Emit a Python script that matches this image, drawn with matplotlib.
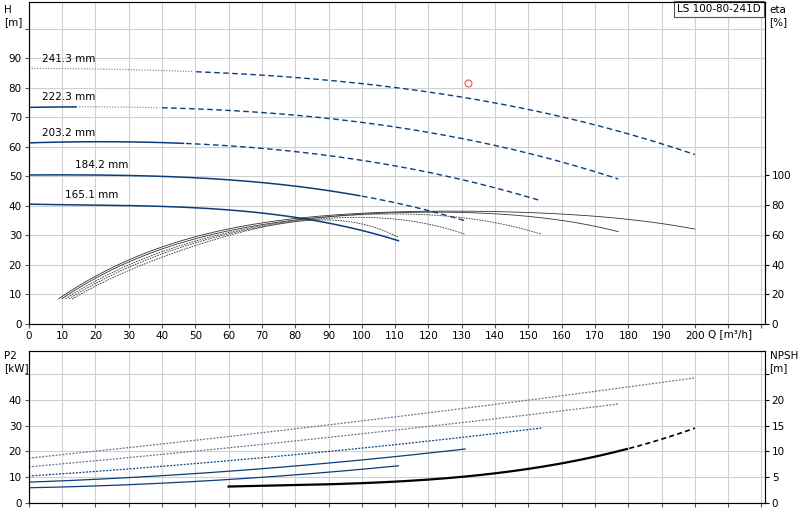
import matplotlib.pyplot as plt
import numpy as np

plt.rcParams["font.family"] = ["DejaVu Sans"]
plt.rcParams["font.size"] = 7.5

# impeller diameters and curves (Q in m3/h)
diameters = ["241.3 mm", "222.3 mm", "203.2 mm", "184.2 mm", "165.1 mm"]
q_h = [
    [0, 25, 50, 75, 100, 130, 150, 175, 200],
    [0, 25, 50, 75, 100, 130, 150, 177],
    [0, 25, 50, 75, 100, 130, 154],
    [0, 20, 40, 60, 80, 100, 131],
    [0, 20, 40, 60, 80, 100, 111],
]
h_vals = [
    [86.5, 86.3, 85.5, 83.8, 81.0, 77.5, 72.5, 65.6, 57.5],
    [73.5, 73.3, 72.6, 71.2, 68.8, 63.0, 57.0, 49.4],
    [61.5, 61.4, 60.8, 59.2, 56.0, 48.0, 42.0],
    [50.5, 50.4, 49.9, 48.8, 47.0, 43.0, 35.0],
    [40.5, 40.4, 39.8, 38.5, 36.0, 32.0, 28.0],
]
# solid section up to this Q, then dashed
solid_to = [0, 15, 47, 100, 111]
dotted_to = [50, 40, 0, 0, 0]

q_eta = [
    [9, 20, 40, 60, 80, 100, 120, 140, 160, 180, 200],
    [10, 20, 40, 60, 80, 100, 120, 140, 160, 177],
    [11, 20, 40, 60, 80, 100, 120, 140, 154],
    [12, 20, 40, 60, 80, 100, 120, 131],
    [13, 20, 40, 60, 80, 100, 111],
]
eta_vals = [
    [17, 32, 52, 64, 71, 74, 76, 76, 74, 70, 64],
    [17, 31, 50, 63, 70, 74, 75, 74, 70, 62],
    [17, 29, 48, 62, 70, 73, 73, 69, 60],
    [17, 27, 47, 61, 69, 71, 68, 60],
    [17, 25, 45, 60, 68, 68, 58],
]

q_p2 = [[0, 50, 100, 150, 200], [0, 50, 100, 150, 177], [0, 50, 100, 154],
        [0, 50, 100, 131], [0, 50, 100, 111]]
p2_vals = [[17.5, 24, 32, 40, 48.5], [14, 20, 27, 34, 38.5], [10.5, 15, 21.5, 29],
           [8, 11.5, 16.5, 21], [5.8, 8.5, 12.5, 14.8]]

q_npsh = [60, 80, 100, 120, 140, 160, 180, 200]
npsh_vals = [3.2, 3.4, 3.8, 4.5, 5.8, 7.8, 10.3, 14.6]

duty_q, duty_h = 132, 81.5

blue = "#0a3d7a"
grid_c = "#d0d0d0"


def smooth(qs, vs, deg, n=200):
    """Smooth curve through the read points."""
    qq = np.linspace(qs[0], qs[-1], n)
    d = min(deg, len(qs) - 1)
    return qq, np.polyval(np.polyfit(qs, vs, d), qq)


fig = plt.figure(figsize=(8, 5.2), dpi=100)
ax = fig.add_axes([0.036, 0.377, 0.92, 0.619])
ax2 = fig.add_axes([0.036, 0.033, 0.92, 0.292])

for a in (ax, ax2):
    a.set_xlim(0, 221)
    a.set_xticks(np.arange(0, 221, 10))
    a.grid(True, color=grid_c, lw=0.8)
    a.set_axisbelow(True)
    a.tick_params(length=3, color="#555555", pad=2)
    for s in a.spines.values():
        s.set_color("#555555")

ax.set_xticklabels([str(v) if v <= 200 else "" for v in range(0, 221, 10)])
ax2.set_xticklabels([])

ax.set_ylim(0, 109)
ax.set_yticks(np.arange(0, 101, 10))
ax.set_yticklabels([str(v) if v <= 90 else "" for v in range(0, 101, 10)])
axe = ax.twinx()
axe.set_ylim(0, 109 * 2.956 / 1.4875)
axe.set_yticks(np.arange(0, 101, 20))
axe.tick_params(length=3, pad=2)

for i in range(5):
    qq, hh = smooth(q_h[i], h_vals[i], 3)
    if dotted_to[i]:
        m = (qq >= solid_to[i]) & (qq <= dotted_to[i])
        ax.plot(qq[m], hh[m], color="#8a8fa8", lw=0.9, ls=(0, (1, 1.2)))
    m = qq <= solid_to[i]
    ax.plot(qq[m], hh[m], color=blue, lw=1.1)
    start = max(solid_to[i], dotted_to[i])
    m = qq >= start
    if solid_to[i] < q_h[i][-1]:
        ax.plot(qq[m], hh[m], color=blue, lw=1.0, ls=(0, (4, 2.5)))
    ax.text([4, 4, 4, 14, 11][i], h_vals[i][0] + 2.2, diameters[i], fontsize=7.5)

    qe, ee = smooth(q_eta[i], eta_vals[i], 4)
    ls = "-" if i < 2 else (0, (2, 1.2))
    axe.plot(qe, ee, color="#333333", lw=0.6, ls=ls)

    qp, pp = smooth(q_p2[i], p2_vals[i], 2)
    ax2.plot(qp, pp, color=blue if i >= 2 else "#6a7090",
             lw=0.9, ls="-" if i >= 3 else (0, (1.5, 1.2)))

ax.plot(duty_q, duty_h, "o", mfc="none", mec="#e05050", ms=5, mew=0.8)

ax2.set_ylim(0, 59)
ax2.set_yticks(np.arange(0, 51, 10))
ax2.set_yticklabels([str(v) if v <= 40 else "" for v in range(0, 51, 10)])
axn = ax2.twinx()
axn.set_ylim(0, 29.5)
axn.set_yticks(np.arange(0, 26, 5))
axn.set_yticklabels([str(v) if v <= 20 else "" for v in range(0, 26, 5)])
axn.tick_params(length=3, pad=2)
qn, nn = smooth(q_npsh, npsh_vals, 3)
axn.plot(qn[qn <= 180], nn[qn <= 180], color="black", lw=1.6)
axn.plot(qn[qn >= 180], nn[qn >= 180], color="black", lw=1.2, ls=(0, (3, 2)))

fig.text(0.005, 0.99, "H\n[m]", va="top", fontsize=7.5)
fig.text(0.962, 0.99, "eta\n[%]", va="top", fontsize=7.5)
fig.text(0.005, 0.325, "P2\n[kW]", va="top", fontsize=7.5)
fig.text(0.962, 0.325, "NPSH\n[m]", va="top", fontsize=7.5)
ax.text(204, -3.5, "Q [m³/h]", va="center", fontsize=7.5)
ax.text(0.995, 0.995, "LS 100-80-241D", transform=ax.transAxes, ha="right",
        va="top", fontsize=7.5,
        bbox=dict(boxstyle="square,pad=0.3", fc="white", ec="#555555", lw=0.8))

fig.savefig("out.png", dpi=100)
